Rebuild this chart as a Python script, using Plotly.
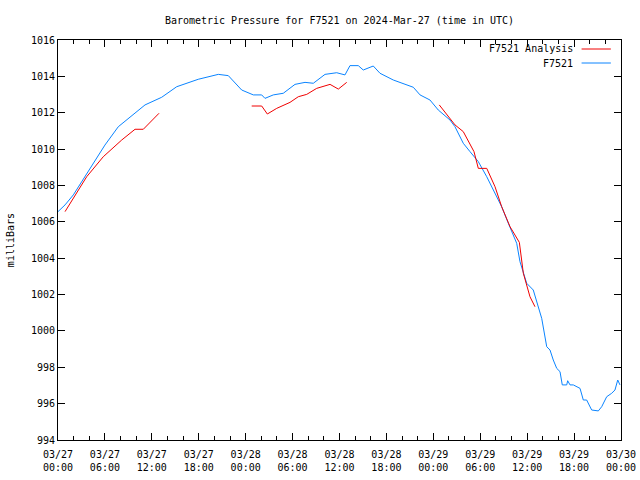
import pandas as pd
import plotly.graph_objects as go

BASE = pd.Timestamp("2024-03-27 00:00")

# F7521 observed (hours since 2024-03-27 00:00 UTC, millibars)
obs_hours = [0.0, 0.9, 1.96, 3.88, 6.0, 7.71, 11.13, 13.26, 15.18, 17.94, 20.5, 21.78,
             23.49, 24.98, 26.05, 26.47, 27.53, 28.81, 30.31, 31.59, 32.65, 34.15, 35.64,
             36.7, 37.34, 38.4, 39.04, 40.32, 41.18, 42.88, 44.16, 45.44, 46.3, 47.57,
             48.63, 50.13, 50.77, 51.83, 52.69, 53.75, 54.83, 55.67, 56.74, 57.59, 58.66,
             59.08, 59.94, 60.78, 61.86, 62.5, 62.92, 63.34, 63.78, 64.2, 64.49, 65.06,
             65.18, 65.48, 65.9, 66.76, 67.18, 67.61, 68.25, 69.1, 69.53, 70.17, 70.81,
             71.23, 71.58, 71.87]
obs_mb = [1006.56, 1006.93, 1007.48, 1008.76, 1010.22, 1011.23, 1012.43, 1012.85, 1013.43,
          1013.84, 1014.11, 1014.04, 1013.25, 1012.98, 1012.98, 1012.79, 1012.98, 1013.07,
          1013.56, 1013.67, 1013.62, 1014.11, 1014.20, 1014.08, 1014.59, 1014.59, 1014.35,
          1014.57, 1014.17, 1013.80, 1013.62, 1013.40, 1012.98, 1012.70, 1012.15, 1011.60,
          1011.23, 1010.32, 1009.86, 1009.31, 1008.48, 1007.75, 1006.83, 1005.92, 1004.82,
          1003.81, 1002.62, 1002.25, 1000.69, 999.13, 998.95, 998.40, 997.94, 997.76,
          997.03, 997.03, 997.26, 997.03, 997.03, 996.84, 996.20, 996.20, 995.65, 995.60,
          995.83, 996.38, 996.57, 996.75, 997.30, 997.03]

# F7521 Analysis (None marks gaps between analysis segments)
ana_hours = [0.9, 3.67, 5.79, 8.15, 9.85, 10.91, 12.92, None,
             24.77, 26.05, 26.77, 27.97, 29.67, 30.73, 31.81, 33.08, 34.79, 35.85, 36.92, None,
             48.76, 50.13, 50.77, 51.83, 52.69, 53.2, 53.75, 54.83, 55.89, 56.74, 57.81,
             59.0, 59.51, 60.36, 61.0]
ana_mb = [1006.56, 1008.48, 1009.58, 1010.5, 1011.09, 1011.09, 1011.97, None,
          1012.37, 1012.37, 1011.93, 1012.24, 1012.57, 1012.88, 1013.01, 1013.34, 1013.56,
          1013.3, 1013.67, None,
          1012.43, 1011.69, 1011.33, 1010.96, 1010.23, 1009.86, 1008.94, 1008.94, 1007.93,
          1006.83, 1005.73, 1004.87, 1003.17, 1001.88, 1001.33]

x_tick_hours = list(range(0, 73, 6))
x_tick_labels = ["03/27<br>00:00", "03/27<br>06:00", "03/27<br>12:00", "03/27<br>18:00",
                 "03/28<br>00:00", "03/28<br>06:00", "03/28<br>12:00", "03/28<br>18:00",
                 "03/29<br>00:00", "03/29<br>06:00", "03/29<br>12:00", "03/29<br>18:00",
                 "03/30<br>00:00"]
y_ticks = list(range(994, 1017, 2))

RED = "#f00000"
BLUE = "#0a84ff"
FONT = "DejaVu Sans Mono"
FS = 10


def to_time(hs):
    return [None if h is None else BASE + pd.Timedelta(hours=h) for h in hs]


fig = go.Figure()
fig.add_trace(go.Scatter(x=to_time(obs_hours), y=obs_mb, mode="lines", name="F7521",
                         line=dict(color=BLUE, width=1), showlegend=False))
fig.add_trace(go.Scatter(x=to_time(ana_hours), y=ana_mb, mode="lines", name="F7521 Analysis",
                         line=dict(color=RED, width=1), connectgaps=False, showlegend=False))

axis_common = dict(showgrid=False, zeroline=False, showline=True, linecolor="black",
                   linewidth=1, mirror="allticks", ticks="inside", tickcolor="black",
                   automargin=False,
                   tickfont=dict(family=FONT, size=FS, color="black"))

fig.update_xaxes(range=[BASE, BASE + pd.Timedelta(hours=72)],
                 tickvals=to_time(x_tick_hours), ticktext=x_tick_labels, ticklen=7,
                 ticklabelstandoff=5,
                 minor=dict(ticks="inside", ticklen=4, tickcolor="black",
                            dtick=2 * 3600 * 1000, tick0=BASE, showgrid=False),
                 **axis_common)
fig.update_yaxes(range=[994, 1016], tickvals=y_ticks, ticktext=[str(v) for v in y_ticks],
                 ticklen=7, **axis_common)

# y-axis title (rotated, like gnuplot)
fig.add_annotation(x=-0.085, y=0.5, xref="paper", yref="paper", text="milliBars",
                   textangle=-90, showarrow=False, xanchor="center", yanchor="middle",
                   font=dict(family=FONT, size=FS, color="black"))

# gnuplot-style key: text right-aligned, sample line to the right
legend_items = [("F7521 Analysis", RED, 0.9775), ("F7521", BLUE, 0.9425)]
for label, col, yy in legend_items:
    fig.add_annotation(x=0.918, y=yy, xref="paper", yref="paper", text=label,
                       showarrow=False, xanchor="right", yanchor="middle",
                       font=dict(family=FONT, size=FS, color="black"))
    fig.add_shape(type="line", xref="paper", yref="paper", x0=0.930, x1=0.982, y0=yy, y1=yy,
                  line=dict(color=col, width=1))

fig.update_layout(
    width=640, height=480,
    margin=dict(l=58, r=19, t=40, b=40, autoexpand=False),
    paper_bgcolor="white", plot_bgcolor="white",
    title=dict(text="Barometric Pressure for F7521 on 2024-Mar-27 (time in UTC)",
               xref="paper", x=0.5, xanchor="center", y=0.958, yanchor="middle",
               font=dict(family=FONT, size=FS, color="black")),
    showlegend=False,
)

fig.write_html("out.html", config={"displayModeBar": False},
               post_script="document.body.style.margin='0px';"
                           "document.body.style.padding='0px';"
                           "document.body.style.overflow='hidden';")
